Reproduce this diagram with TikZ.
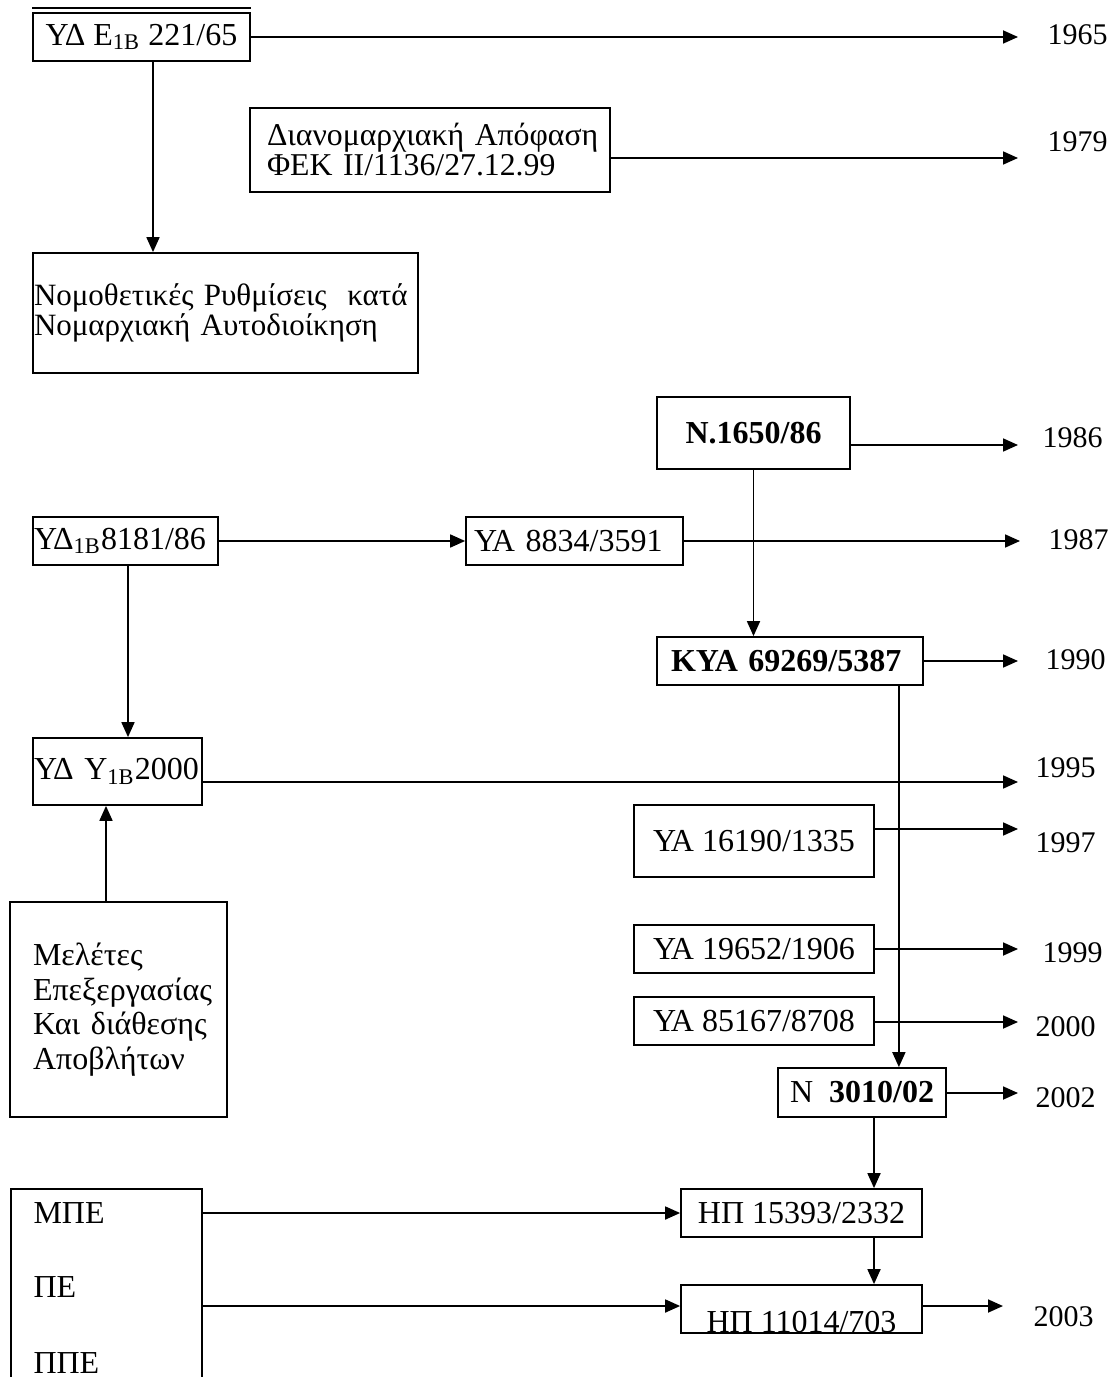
\documentclass[12pt,tikz,border=0pt]{standalone}
\usepackage{fontspec}
\setmainfont{Liberation Serif}
\usetikzlibrary{arrows.meta}
\newcommand{\bxf}{\fontsize{12.8pt}{14.7pt}\selectfont}
\newcommand{\dbx}[7][]{\node[box,minimum width={(#5-#3)*0.4pt},minimum height={(#6-#4)*0.4pt},#1] (#2) at ({(#3+#5)/2},{(#4+#6)/2}) {#7};}
\newcommand{\lbx}[8][]{\node[box,align=left,inner xsep={#7*0.4pt},text width={(#5-#3-2*#7)*0.4pt},minimum width={(#5-#3)*0.4pt},minimum height={(#6-#4)*0.4pt},#1] (#2) at ({(#3+#5)/2},{(#4+#6)/2}) {#8};}
\begin{document}
\begin{tikzpicture}[x=0.4pt,y=-0.4pt,
  box/.style={draw,line width=0.7pt,inner ysep=0pt,font=\bxf},
  arr/.style={line width=0.7pt,-{Triangle[length=6pt,width=5.2pt]}},
  ln/.style={line width=0.7pt},
  yr/.style={anchor=west,inner sep=0pt},
  txt/.style={anchor=west,inner sep=0pt,font=\bxf}]
\useasboundingbox (0,0) rectangle (1113,1377);

% top part
\dbx{A}{33}{13}{250}{61}{ΥΔ Ε\textsubscript{1Β} 221/65}
\draw[ln] ([yshift=1.6pt]A.north west) -- ([yshift=1.6pt]A.north east);
\coordinate (t65) at (1018,37);
\node[yr] (y65) at (1047,35) {1965};
\draw[arr] (A.east) -- (t65);

\lbx[font=\fontsize{12.7pt}{12pt}\selectfont]{B}{250}{108}{610}{192}{17}{\mbox{Διανομαρχιακή Απόφαση}\\\mbox{ΦΕΚ ΙΙ/1136/27.12.99}}
\coordinate (t79) at (1018,158);
\node[yr] (y79) at (1047,142) {1979};
\draw[arr] (B.east |- t79) -- (t79);

\lbx[font=\fontsize{12.4pt}{12pt}\selectfont]{C}{33}{253}{418}{373}{1}{\mbox{Νομοθετικές Ρυθμίσεις~~κατά}\\\mbox{Νομαρχιακή Αυτοδιοίκηση}}
\draw[arr] ([xshift=4.6pt]A.south) -- ([xshift=4.6pt]A.south |- C.north);

% middle part
\dbx[font=\bxf\bfseries]{D}{657}{397}{850}{469}{Ν.1650/86}
\coordinate (t86) at (1018,445);
\node[yr] (y86) at (1042,438) {1986};
\draw[arr] (D.east |- t86) -- (t86);

\lbx{E}{33}{517}{218}{565}{1}{ΥΔ\textsubscript{1Β}8181/86}
\lbx{F}{466}{517}{683}{565}{8}{ΥΑ 8834/3591}
\draw[arr] (E.east) -- (F.west);
\coordinate (t87) at (1020,541);
\node[yr] (y87) at (1048,540) {1987};
\draw[arr] (F.east) -- (t87);

\lbx[font=\bxf\bfseries]{G}{657}{637}{923}{685}{14}{ΚΥΑ 69269/5387}
\draw[arr] (D.south) -- (D.south |- G.north);
\coordinate (t90) at (1018,661);
\node[yr] (y90) at (1045,660) {1990};
\draw[arr] (G.east) -- (t90);

\lbx{H}{33}{738}{202}{805}{1}{\mbox{ΥΔ Υ\textsubscript{1Β}2000}}
\draw[arr] ([xshift=1pt]E.south) -- ([xshift=1pt]E.south |- H.north);
\coordinate (t95) at (1018,782);
\node[yr] (y95) at (1035,768) {1995};
\draw[arr] (H.east |- t95) -- (t95);

\lbx[font=\fontsize{12.8pt}{13.8pt}\selectfont]{I}{10}{902}{227}{1117}{23}{\mbox{Μελέτες}\\\mbox{Επεξεργασίας}\\\mbox{Και διάθεσης}\\\mbox{Αποβλήτων}}
\draw[arr] ([xshift=-5pt]I.north) -- ([xshift=-5pt]I.north |- H.south);

\dbx{J}{634}{805}{874}{877}{ΥΑ 16190/1335}
\coordinate (t97) at (1018,829);
\node[yr] (y97) at (1035,843) {1997};
\draw[arr] (J.east |- t97) -- (t97);

\dbx{K}{634}{925}{874}{973}{ΥΑ 19652/1906}
\coordinate (t99) at (1018,949);
\node[yr] (y99) at (1042,953) {1999};
\draw[arr] (K.east |- t99) -- (t99);

\dbx{L}{634}{997}{874}{1045}{ΥΑ 85167/8708}
\coordinate (t00) at (1018,1022);
\node[yr] (y00) at (1035,1027) {2000};
\draw[arr] (L.east |- t00) -- (t00);

\dbx{N}{778}{1068}{946}{1117}{Ν~~\textbf{3010/02}}
\draw[arr] ([xshift=-10pt]G.south east) -- ([xshift=-10pt]G.south east |- N.north);
\coordinate (t02) at (1018,1093);
\node[yr] (y02) at (1035,1098) {2002};
\draw[arr] (N.east |- t02) -- (t02);

% bottom part
\dbx{P}{681}{1189}{922}{1237}{ΗΠ 15393/2332}
\dbx{Q}{681}{1285}{922}{1333}{\raisebox{-5pt}[\height][\depth]{ΗΠ 11014/703}}
\draw[arr] ([xshift=4.8pt]N.south) -- ([xshift=4.8pt]N.south |- P.north);
\draw[arr] ([xshift=4.8pt]N.south |- P.south) -- ([xshift=4.8pt]N.south |- Q.north);
\coordinate (t03) at (1003,1306);
\node[yr] (y03) at (1033,1317) {2003};
\draw[arr] (Q.east |- t03) -- (t03);

\dbx{R}{11}{1189}{202}{1400}{}
\node[txt] (r1) at (33,1213) {ΜΠΕ};
\node[txt] (r2) at (33,1287) {ΠΕ};
\node[txt] (r3) at (33,1363) {ΠΠΕ};
\draw[arr] (R.east |- P.west) -- (P.west);
\draw[arr] (R.east |- t03) -- (Q.west |- t03);
\end{tikzpicture}
\end{document}
